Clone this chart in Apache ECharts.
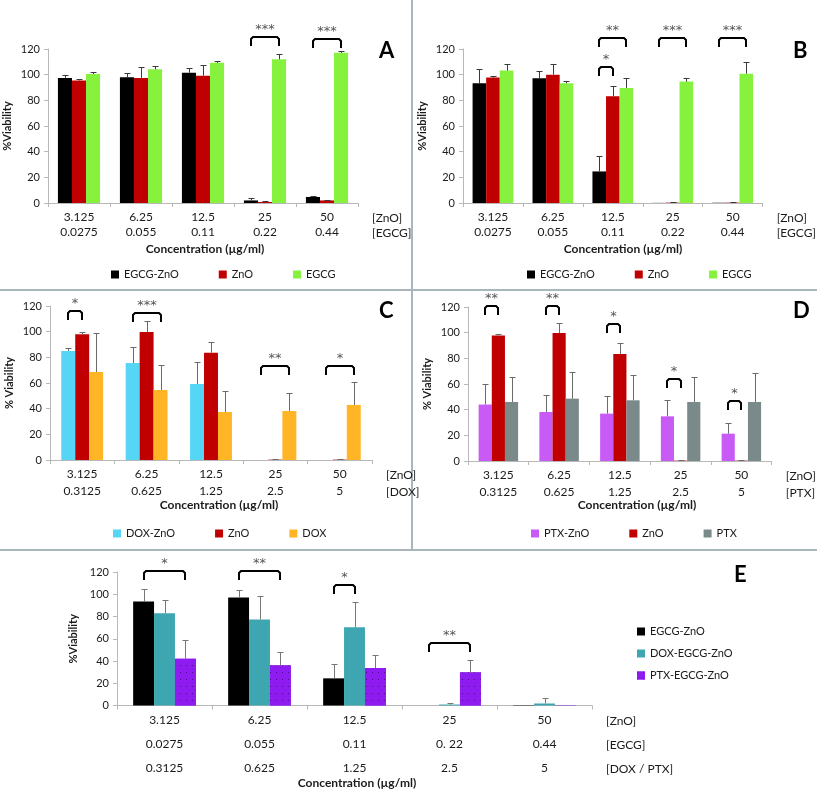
<!DOCTYPE html>
<html><head><meta charset="utf-8">
<script src="https://cdn.jsdelivr.net/npm/echarts@6/dist/echarts.min.js"></script>
<style>html,body{margin:0;padding:0;background:#fff}#c{width:817px;height:792px}</style>
</head><body><div id="c"></div>
<script>
// ---- data ----
const zno = ['3.125','6.25','12.5','25','50'];
const egcg = ['0.0275','0.055','0.11','0.22','0.44'];
const egcgE = ['0.0275','0.055','0.11','0. 22','0.44'];
const doxptx = ['0.3125','0.625','1.25','2.5','5'];

// Panel A
const aEgcgZnO = [97.5, 98, 101.5, 2, 4.7];
const aEgcgZnOSd = [2.5, 3, 4, 1.6, 1];
const aZnO = [95.5, 97.5, 99.2, 0.8, 2];
const aZnOSd = [1.5, 8.5, 8.5, 0.5, 0.6];
const aEgcg = [100.5, 104.2, 109.2, 112, 117];
const aEgcgSd = [1.5, 2.8, 1.8, 4.4, 1.6];
// Panel B
const bEgcgZnO = [93.3, 97.3, 24.6, 0.1, 0.2];
const bEgcgZnOSd = [11, 5.7, 12.2, 0, 0];
const bZnO = [97.7, 100, 83.2, 0.3, 0.3];
const bZnOSd = [1.6, 8.3, 8.3, 0.3, 0.3];
const bEgcg = [103.2, 93.3, 89.7, 94.6, 100.8];
const bEgcgSd = [5, 2, 7.9, 3, 8.8];
// Panel C
const cDoxZnO = [85, 75.6, 59.2, -0.4, 0];
const cDoxZnOSd = [2, 12.7, 16.9, 0, 0];
const cZnO = [97.9, 99.7, 83.6, 0.3, 0.3];
const cZnOSd = [1.8, 8.3, 8.3, 0.2, 0.2];
const cDox = [68.5, 54.5, 37.4, 38.2, 42.9];
const cDoxSd = [30.7, 19.8, 16.1, 14, 17.6];
// Panel D
const dPtxZnO = [44, 38.2, 36.9, 34.8, 21.3];
const dPtxZnOSd = [15.8, 13.5, 13.7, 13, 8];
const dZnO = [97.7, 99.7, 83.4, 0.3, 0.3];
const dZnOSd = [1.5, 8.1, 8.3, 0.2, 0.2];
const dPtx = [46, 48.6, 47.3, 46, 46];
const dPtxSd = [19.5, 21, 20, 19.5, 22.3];
// Panel E
const eEgcgZnO = [93.5, 97.1, 24.4, 0, 0.3];
const eEgcgZnOSd = [10.9, 6.4, 12.6, 0, 0.3];
const eDoxEgcgZnO = [83, 77.3, 70.4, 0.9, 1.8];
const eDoxEgcgZnOSd = [11.4, 21, 22.8, 1.5, 4.5];
const ePtxEgcgZnO = [42.1, 36.1, 33.7, 29.8, 0.2];
const ePtxEgcgZnOSd = [17.1, 12, 12, 11.4, 0];

// significance brackets: [category, fromBar, toBar, topValue]
const sigA = [[3,0,2,129.4],[4,0,2,127.8]];
const sigALab = ['***','***'];
const sigB = [[2,0,1,106.2],[2,0,2,128.8],[3,0,2,128.6],[4,0,2,128.6]];
const sigBLab = ['*','**','***','***'];
const sigC = [[0,0,1,116.3],[1,0,2,114.8],[3,0,2,73.2],[4,0,2,73.2]];
const sigCLab = ['*','***','**','*'];
const sigD = [[0,0,1,120.5],[1,0,1,120.5],[2,0,1,106.5],[3,0,1,63.7],[4,0,1,46.6]];
const sigDLab = ['**','**','*','*','*'];
const sigE = [[0,0,2,120.5],[1,0,2,120.5],[2,0,1,108],[3,0,2,56.1]];
const sigELab = ['*','**','*','**'];

// ---- styling ----
const FONT = 'Lato, "Open Sans", sans-serif';
const RED = '#C00000', BLACK = '#000000', GREEN = '#86F23E';
const CYAN = '#55D6F5', ORANGE = '#FFB526', MAGENTA = '#C85AF6', GREY = '#7A8A8B';
const TEAL = '#3DA6B0', PURPLE = '#8E1CF0';

const panels = [
  {grid:{left:48, top:49, width:310, height:154}, gap:0.32, lh:15, margin:7, rows:[zno, egcg], unit:'[ZnO]\n[EGCG]', yname:'%Viability', ygap:35,
   names:['EGCG-ZnO','ZnO','EGCG'], colors:[BLACK,RED,GREEN], vals:[aEgcgZnO,aZnO,aEgcg], sds:[aEgcgZnOSd,aZnOSd,aEgcgSd], sig:sigA, sigLab:sigALab, errColor:'#3a3a3a'},
  {grid:{left:463, top:49, width:314, height:154}, gap:0.32, lh:15, margin:7, rows:[zno, egcg], unit:'[ZnO]\n[EGCG]', yname:'%Viability', ygap:35,
   names:['EGCG-ZnO','ZnO','EGCG'], colors:[BLACK,RED,GREEN], vals:[bEgcgZnO,bZnO,bEgcg], sds:[bEgcgZnOSd,bZnOSd,bEgcgSd], sig:sigB, sigLab:sigBLab, errColor:'#3a3a3a'},
  {grid:{left:50, top:306, width:322, height:154}, gap:0.35, lh:17, margin:6, rows:[zno, doxptx], unit:'[ZnO]\n[DOX]', yname:'% Viability', ygap:35,
   names:['DOX-ZnO','ZnO','DOX'], colors:[CYAN,RED,ORANGE], vals:[cDoxZnO,cZnO,cDox], sds:[cDoxZnOSd,cZnOSd,cDoxSd], sig:sigC, sigLab:sigCLab, errColor:'#6a6a6a'},
  {grid:{left:468, top:307, width:313, height:154}, gap:0.35, lh:17, margin:6, rows:[zno, doxptx], unit:'[ZnO]\n[PTX]', yname:'% Viability', ygap:35,
   names:['PTX-ZnO','ZnO','PTX'], colors:[MAGENTA,RED,GREY], vals:[dPtxZnO,dZnO,dPtx], sds:[dPtxZnOSd,dZnOSd,dPtxSd], sig:sigD, sigLab:sigDLab, errColor:'#6a6a6a'},
  {grid:{left:117, top:572, width:475, height:133.5}, gap:0.34, lh:24, margin:3, rows:[zno, egcgE, doxptx], unit:'[ZnO]\n[EGCG]\n[DOX / PTX]', yname:'%Viability', ygap:34,
   names:['EGCG-ZnO','DOX-EGCG-ZnO','PTX-EGCG-ZnO'], colors:[BLACK,TEAL,PURPLE], vals:[eEgcgZnO,eDoxEgcgZnO,ePtxEgcgZnO], sds:[eEgcgZnOSd,eDoxEgcgZnOSd,ePtxEgcgZnOSd], sig:sigE, sigLab:sigELab, errColor:'#777777'}
];

const grids = [], xAxes = [], yAxes = [], series = [];
panels.forEach((p, pi) => {
  grids.push(p.grid);
  xAxes.push({
    type:'category', gridIndex:pi, data:zno,
    axisLine:{lineStyle:{color:'#b8b8b8'}}, axisTick:{show:true, length:4, lineStyle:{color:'#b8b8b8'}},
    axisLabel:{margin:p.margin, color:'#1a1a1a', fontFamily:FONT, fontSize:12, lineHeight:p.lh,
      formatter:(v, i) => p.rows.map(r => r[i]).join('\n')},
    name:p.unit, nameLocation:'end', nameGap:14,
    nameTextStyle:{color:'#1a1a1a', fontFamily:FONT, fontSize:12, lineHeight:p.lh, align:'left', verticalAlign:'top', padding:[p.margin+1,0,0,0]}
  });
  yAxes.push({
    type:'value', gridIndex:pi, min:0, max:120, interval:20,
    axisLine:{show:true, lineStyle:{color:'#b8b8b8'}}, axisTick:{show:true, length:4, lineStyle:{color:'#b8b8b8'}},
    splitLine:{show:false},
    axisLabel:{color:'#1a1a1a', fontFamily:FONT, fontSize:11, margin:8},
    name:p.yname, nameLocation:'middle', nameGap:p.ygap, nameRotate:90,
    nameTextStyle:{color:'#1a1a1a', fontFamily:FONT, fontSize:11, fontWeight:'bold'}
  });
  p.names.forEach((nm, si) => {
    const s = {
      name:nm, type:'bar', xAxisIndex:pi, yAxisIndex:pi, data:p.vals[si],
      barGap:'0%', barCategoryGap:(p.gap*100)+'%',
      itemStyle:{color:p.colors[si]}, silent:true, animation:false
    };
    if (pi === 4 && si === 2) {
      s.itemStyle.decal = {symbol:'rect', symbolSize:1, dashArrayX:[[1,5]], dashArrayY:[1,6], color:'rgba(30,0,60,0.55)', backgroundColor:PURPLE};
    }
    series.push(s);
  });
  // error bars
  const errData = [];
  p.vals.forEach((arr, si) => arr.forEach((v, ci) => errData.push([ci, si, v, p.sds[si][ci]])));
  series.push({
    type:'custom', xAxisIndex:pi, yAxisIndex:pi, data:errData, clip:false, silent:true, animation:false, z:5,
    encode:{x:0, y:2},
    renderItem:(params, api) => {
      const ci = api.value(0), si = api.value(1), m = api.value(2), sd = api.value(3);
      if (!(sd > 0)) return null;
      const band = api.size([1, 0])[0];
      const bw = band * (1 - p.gap) / 3;
      const x = Math.round(api.coord([ci, 0])[0] + (si - 1) * bw) + 0.5;
      const y1 = api.coord([ci, Math.max(m, 0)])[1];
      const y2 = Math.round(api.coord([ci, m + sd])[1]) + 0.5;
      const st = {stroke:p.errColor, lineWidth:1};
      return {type:'group', children:[
        {type:'line', shape:{x1:x, y1:y1, x2:x, y2:y2}, style:st},
        {type:'line', shape:{x1:x-3, y1:y2, x2:x+3, y2:y2}, style:st}
      ]};
    }
  });
  // significance brackets
  series.push({
    type:'custom', xAxisIndex:pi, yAxisIndex:pi, data:p.sig, clip:false, silent:true, animation:false, z:6,
    encode:{x:0, y:3},
    renderItem:(params, api) => {
      const ci = api.value(0), b0 = api.value(1), b1 = api.value(2), top = api.value(3);
      const band = api.size([1, 0])[0];
      const bw = band * (1 - p.gap) / 3;
      const cx = api.coord([ci, 0])[0];
      const x0 = Math.round(cx + (b0 - 1) * bw), x1 = Math.round(cx + (b1 - 1) * bw);
      const yt = Math.round(api.coord([ci, top])[1]);
      const leg = 9;
      return {type:'group', children:[
        {type:'polyline', shape:{points:[[x0, yt+leg],[x0, yt+2],[x0+2, yt],[x1-2, yt],[x1, yt+2],[x1, yt+leg]]},
         style:{stroke:'#000', lineWidth:2, fill:null}},
        {type:'text', style:{text:p.sigLab[params.dataIndex], x:(x0+x1)/2, y:yt-1, align:'center', verticalAlign:'bottom',
         fill:'#555', font:'13px "DejaVu Sans", sans-serif'}}
      ]};
    }
  });
});

const legendBase = {icon:'rect', itemWidth:8, itemHeight:8, selectedMode:false,
  textStyle:{color:'#1a1a1a', fontFamily:FONT, fontSize:11}};
const legends = [
  Object.assign({}, legendBase, {data:['EGCG-ZnO','ZnO','EGCG'], left:106, top:264, itemGap:40}),
  Object.assign({}, legendBase, {data:['EGCG-ZnO','ZnO','EGCG'], left:522, top:264, itemGap:40}),
  Object.assign({}, legendBase, {data:['DOX-ZnO','ZnO','DOX'], left:108, top:523, itemGap:40}),
  Object.assign({}, legendBase, {data:['PTX-ZnO','ZnO','PTX'], left:526, top:523, itemGap:40}),
  Object.assign({}, legendBase, {data:['EGCG-ZnO','DOX-EGCG-ZnO','PTX-EGCG-ZnO'], left:632, top:621, orient:'vertical', itemGap:11})
];

const letterStyle = {fontFamily:FONT, fontSize:22, fontWeight:'bold', color:'#000'};
const concStyle = {fontFamily:FONT, fontSize:12, fontWeight:'bold', color:'#1a1a1a'};
const titles = [
  {text:'A', left:379, top:40, textStyle:letterStyle},
  {text:'B', left:793, top:40, textStyle:letterStyle},
  {text:'C', left:379, top:300, textStyle:letterStyle},
  {text:'D', left:793, top:300, textStyle:letterStyle},
  {text:'E', left:734, top:564, textStyle:letterStyle},
  {text:'Concentration (µg/ml)', left:205, top:243, textAlign:'center', textStyle:concStyle},
  {text:'Concentration (µg/ml)', left:623, top:243, textAlign:'center', textStyle:concStyle},
  {text:'Concentration (µg/ml)', left:219, top:499, textAlign:'center', textStyle:concStyle},
  {text:'Concentration (µg/ml)', left:637, top:499, textAlign:'center', textStyle:concStyle},
  {text:'Concentration (µg/ml)', left:357, top:777, textAlign:'center', textStyle:concStyle}
].map(t => Object.assign({padding:0}, t));

const chart = echarts.init(document.getElementById('c'), null, {renderer:'canvas'});
chart.setOption({
  animation:false,
  backgroundColor:'#fff',
  title:titles,
  legend:legends,
  grid:grids, xAxis:xAxes, yAxis:yAxes, series:series,
  graphic:[
    {type:'line', shape:{x1:412, y1:0, x2:412, y2:550}, style:{stroke:'#a9b6bd', lineWidth:2}, silent:true},
    {type:'line', shape:{x1:0, y1:290, x2:817, y2:290}, style:{stroke:'#a9b6bd', lineWidth:2}, silent:true},
    {type:'line', shape:{x1:0, y1:550, x2:817, y2:550}, style:{stroke:'#a9b6bd', lineWidth:2}, silent:true}
  ]
});
</script></body></html>
